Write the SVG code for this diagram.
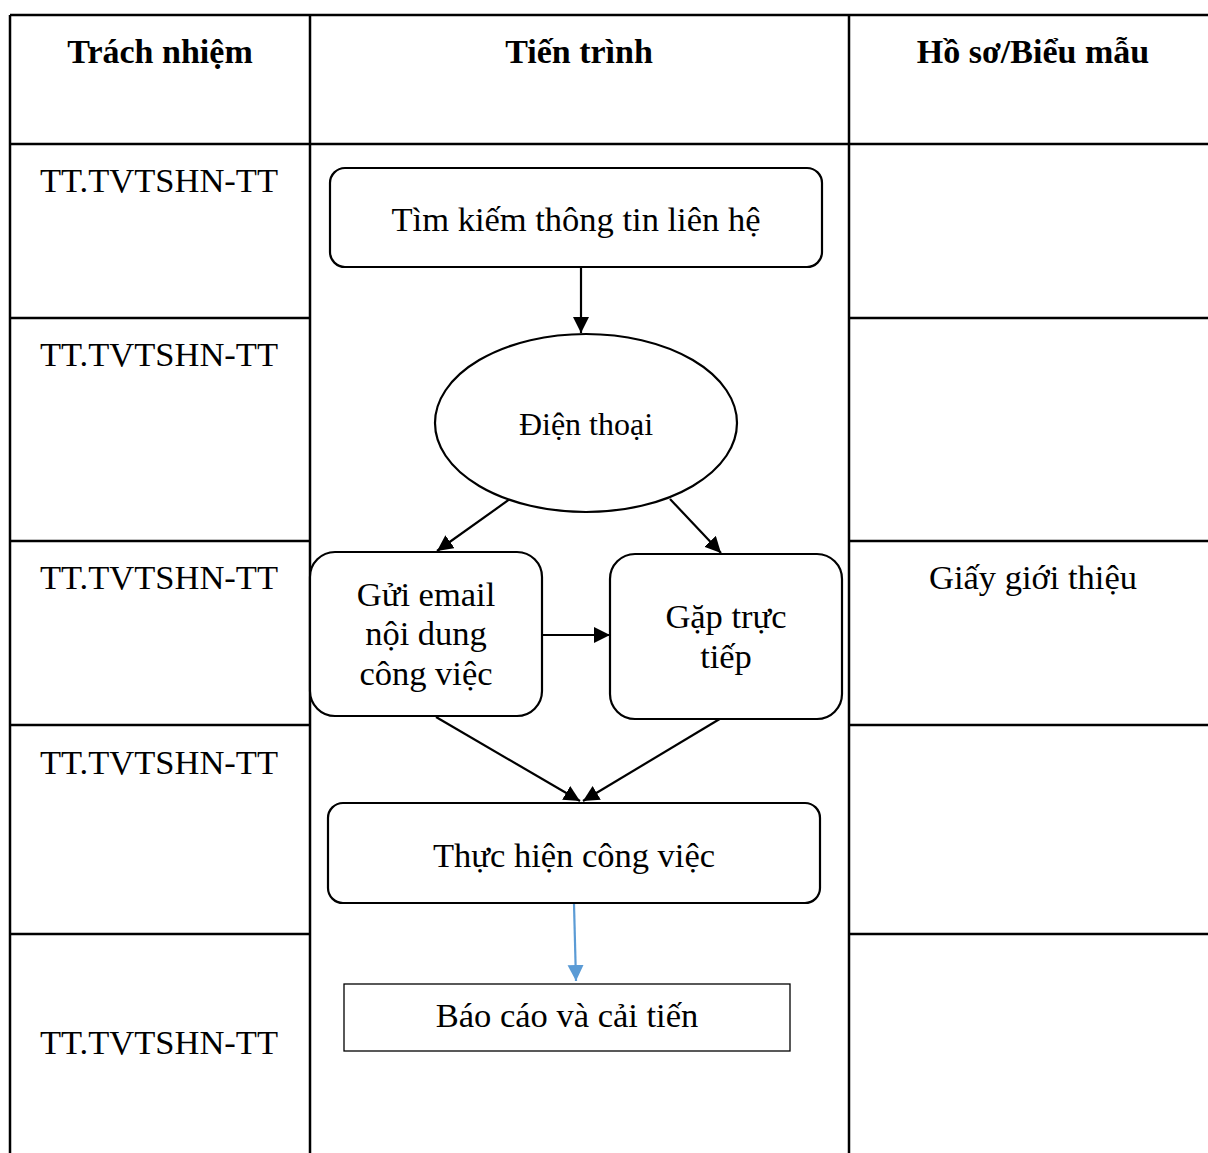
<svg xmlns="http://www.w3.org/2000/svg" width="1208" height="1153" viewBox="0 0 1208 1153">
<style>
.grid{stroke:#000;stroke-width:2.5;fill:none}
.hdr{font-family:"Liberation Serif","Times New Roman",serif;font-weight:bold;font-size:34px;fill:#000;text-anchor:middle}
.txt{font-family:"Liberation Serif","Times New Roman",serif;font-size:34.5px;fill:#000;text-anchor:middle}
.box{fill:#fff;stroke:#000;stroke-width:2.2}
.conn{stroke:#000;stroke-width:2.2;fill:none;marker-end:url(#ah)}
.blue{stroke:#5B9BD5;stroke-width:2.2;fill:none;marker-end:url(#ahb)}
</style>
<defs>
<marker id="ah" markerUnits="userSpaceOnUse" markerWidth="18" markerHeight="18" refX="16" refY="8" orient="auto">
<path d="M0,0 L16,8 L0,16 z" fill="#000"/>
</marker>
<marker id="ahb" markerUnits="userSpaceOnUse" markerWidth="18" markerHeight="18" refX="16" refY="8" orient="auto">
<path d="M0,0 L16,8 L0,16 z" fill="#5B9BD5"/>
</marker>
</defs>
<rect width="1208" height="1153" fill="#fff"/>
<g id="table">
<path class="grid" d="M10,15 H1208 M10,15 V1153 M310,15 V1153 M849,15 V1153 M10,144 H1208 M10,318 H310 M849,318 H1208 M10,541 H310 M849,541 H1208 M10,725 H310 M849,725 H1208 M10,934 H310 M849,934 H1208"/>
<text class="hdr" x="160" y="63">Trách nhiệm</text>
<text class="hdr" x="579" y="63">Tiến trình</text>
<text class="hdr" x="1033" y="63">Hồ sơ/Biểu mẫu</text>
<text class="txt" x="159" y="192">TT.TVTSHN-TT</text>
<text class="txt" x="159" y="366">TT.TVTSHN-TT</text>
<text class="txt" x="159" y="589">TT.TVTSHN-TT</text>
<text class="txt" x="159" y="774">TT.TVTSHN-TT</text>
<text class="txt" x="159" y="1054">TT.TVTSHN-TT</text>
<text class="txt" x="1033" y="589">Giấy giới thiệu</text>
</g>
<g id="connectors">
<line class="conn" x1="581" y1="268" x2="581" y2="333"/>
<line class="conn" x1="510" y1="499" x2="437" y2="551"/>
<line class="conn" x1="670" y1="499" x2="721" y2="553"/>
<line class="conn" x1="543" y1="635" x2="610" y2="635"/>
<line class="conn" x1="436" y1="717" x2="580" y2="801"/>
<line class="conn" x1="723" y1="717" x2="583" y2="801"/>
<line class="blue" x1="574" y1="904" x2="576" y2="981"/>
</g>
<g id="n1">
<rect class="box" x="330" y="168" width="492" height="99" rx="15"/>
<text class="txt" x="576" y="231">Tìm kiếm thông tin liên hệ</text>
</g>
<g id="n2">
<ellipse class="box" cx="586" cy="423" rx="151" ry="89"/>
<text class="txt" x="586" y="435" style="font-size:32px">Điện thoại</text>
</g>
<g id="n3">
<rect class="box" x="310" y="552" width="232" height="164" rx="25"/>
<text class="txt" x="426" y="606">Gửi email</text>
<text class="txt" x="426" y="645">nội dung</text>
<text class="txt" x="426" y="685">công việc</text>
</g>
<g id="n4">
<rect class="box" x="610" y="554" width="232" height="165" rx="25"/>
<text class="txt" x="726" y="628">Gặp trực</text>
<text class="txt" x="726" y="668">tiếp</text>
</g>
<g id="n5">
<rect class="box" x="328" y="803" width="492" height="100" rx="15"/>
<text class="txt" x="574" y="867">Thực hiện công việc</text>
</g>
<g id="n6">
<rect x="344" y="984" width="446" height="67" fill="#fff" stroke="#000" stroke-width="1.3"/>
<text class="txt" x="567" y="1027">Báo cáo và cải tiến</text>
</g>
</svg>
